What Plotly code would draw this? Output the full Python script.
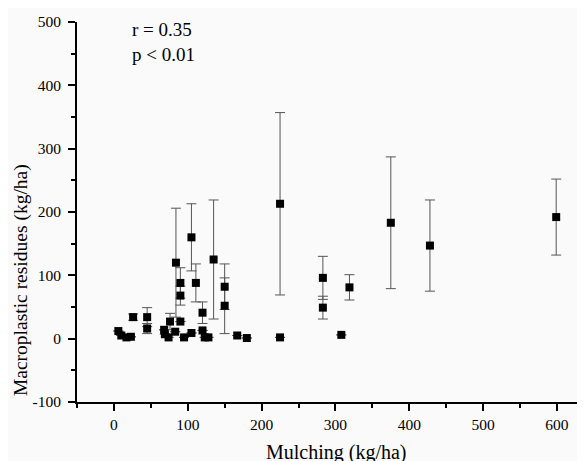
import plotly.graph_objects as go

mulching = [6, 10, 17, 23, 26, 45, 45, 68, 69, 74, 76, 83, 84, 90, 90, 90, 95,
            105, 105, 111, 120, 120, 123, 128, 135, 150, 150, 167, 180,
            225, 225, 283, 283, 308, 319, 375, 428, 599]
residues = [12, 5, 2, 3, 34, 34, 16, 14, 7, 2, 27, 11, 120, 88, 68, 27, 2,
            160, 9, 88, 41, 13, 2, 2, 125, 82, 52, 5, 1,
            213, 2, 96, 49, 6, 81, 183, 147, 192]
errors = [0, 0, 0, 0, 5, 15, 8, 0, 0, 0, 13, 0, 86, 24, 15, 0, 0,
          53, 0, 30, 17, 0, 0, 0, 94, 36, 44, 0, 0,
          144, 0, 34, 18, 0, 20, 104, 72, 60]

x_ticks = [0, 100, 200, 300, 400, 500, 600]
y_ticks = [-100, 0, 100, 200, 300, 400, 500]
y_tick_labels = ["-100", "0", "100", "200", "300", "400", "500"]

font = "Liberation Serif, Times New Roman, serif"

fig = go.Figure()
fig.add_trace(go.Scatter(
    x=mulching, y=residues, mode="markers",
    marker=dict(symbol="square", size=8, color="black"),
    error_y=dict(type="data", array=errors, visible=True,
                 color="#555555", thickness=1, width=5),
    showlegend=False,
))

axis_common = dict(
    showline=True, linecolor="black", linewidth=2,
    ticks="outside", ticklen=7, tickwidth=1.5, tickcolor="black",
    showgrid=False, zeroline=False, mirror=False, automargin=False,
    tickfont=dict(family=font, size=15.5, color="black"),
)

fig.update_xaxes(
    range=[-50, 638], tickvals=x_ticks,
    minor=dict(dtick=50, ticks="outside", ticklen=4, tickcolor="black", tickwidth=1.5),
    **axis_common,
)
fig.update_yaxes(
    range=[-100, 500], tickvals=y_ticks, ticktext=y_tick_labels,
    minor=dict(dtick=50, ticks="outside", ticklen=4, tickcolor="black", tickwidth=1.5),
    ticklabelstandoff=4,
    **axis_common,
)

title_font = dict(family=font, size=20, color="black")
fig.add_annotation(
    xref="paper", yref="paper", x=0.5099, y=-0.1316, xanchor="center", yanchor="middle",
    text="Mulching (kg/ha)", showarrow=False, font=title_font,
)
fig.add_annotation(
    xref="paper", yref="paper", x=-0.1102, y=0.321, xanchor="center", yanchor="middle",
    text="Macroplastic residues (kg/ha)", showarrow=False, textangle=-90,
    font=dict(family=font, size=19.5, color="black"),
)

fig.add_annotation(
    xref="paper", yref="paper", x=0.104, y=1.012, xanchor="left", yanchor="top",
    text="r = 0.35<br>p < 0.01", showarrow=False, align="left",
    font=dict(family=font, size=19, color="black"),
)

fig.update_layout(
    width=585, height=461,
    margin=dict(l=69, r=8, t=14, b=67),
    paper_bgcolor="#fafafa", plot_bgcolor="#fafafa",
)

fig.write_html("out.html")
